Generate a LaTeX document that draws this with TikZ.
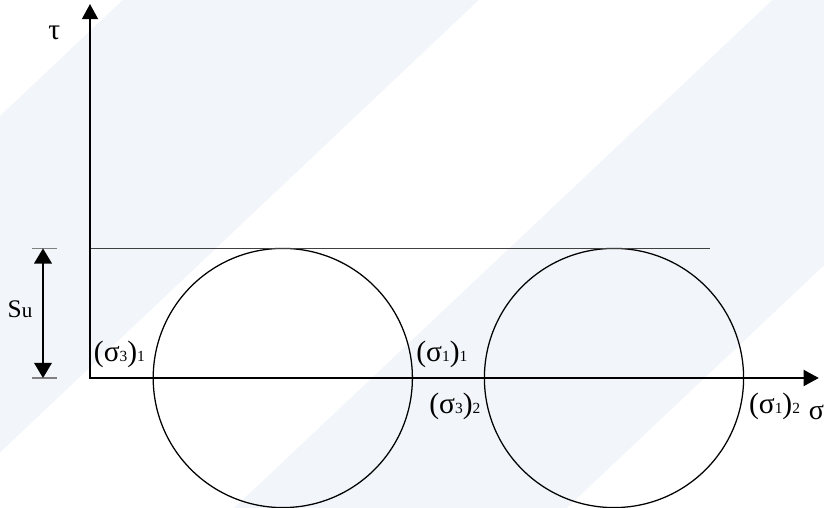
\documentclass[tikz,border=0pt]{standalone}
\usepackage{fontspec}
\setmainfont{Liberation Serif}
\usetikzlibrary{positioning,arrows.meta}
\definecolor{wmark}{RGB}{242,245,249}
\newcommand{\lo}[1]{{\fontsize{5.5}{6}\selectfont #1}}

\begin{document}
\begin{tikzpicture}[
  font=\fontsize{10.5}{12}\selectfont,
  axis/.style={{Triangle[length=1.9mm,width=2mm]}-{Triangle[length=1.9mm,width=2mm]}, line width=0.7pt},
  mohr/.style={draw, circle, minimum size=3.24cm, inner sep=0pt, line width=0.45pt},
  dim/.style={{Triangle[length=1.9mm,width=2.2mm]}-{Triangle[length=1.9mm,width=2.2mm]}, line width=0.7pt},
  tick/.style={draw=gray, line width=0.4pt},
  lbl/.style={inner sep=1pt}
]
\useasboundingbox (-1.125,-1.625) rectangle (9.175,4.725);
% background stripes
\begin{scope}
  \clip (-1.125,-1.625) rectangle (9.175,4.725);
  \fill[wmark] (0.41,4.725) -- (4.86,4.725) -- (-1.86,-1.625) -- (-6.31,-1.625) -- cycle;
  \fill[wmark] (8.53,4.725) -- (12.69,4.725) -- (5.96,-1.625) -- (1.8,-1.625) -- cycle;
\end{scope}

\coordinate (O) at (0,0);
\coordinate (tau) at (0,4.675);
\coordinate (sig) at (9.11,0);
\coordinate (ytop) at (0,1.62);
\coordinate (yend) at (7.75,1.62);
\coordinate (sutop) at (-0.5875,1.62);
\coordinate (subot) at (-0.5875,0);

\node[mohr] (c1) at (2.41,0) {};
\node[mohr] (c2) at (6.55,0) {};

\draw[line width=0.3pt, draw=gray!50!black] (ytop) -- (yend);
\draw[axis] (tau) -- (O) -- (sig);

% s_u dimension
\draw[tick] ([xshift=-1.4mm]sutop) -- ([xshift=1.7mm]sutop);
\draw[tick] ([xshift=-1.4mm]subot) -- ([xshift=1.7mm]subot);
\draw[dim] (sutop) -- (subot);
\node (sulbl) at (-0.875,0.86) {\fontsize{9}{10}\selectfont S{\fontsize{7.5}{8}\selectfont u}};

% labels
\node[lbl] (taulbl) [below left=2.3mm and 3.3mm of tau] {τ};
\node[lbl] (siglbl) [below=3mm of sig, xshift=-0.3mm] {\fontsize{10}{11}\selectfont σ};
\node[lbl] (s31) [above left=2.5pt and 1.5pt of c1.west] {(σ\lo{3})\lo{1}};
\node[lbl] (s11) [above right=2.5pt and 0pt of c1.east] {(σ\lo{1})\lo{1}};
\node[lbl] (s32) [below left=4.3pt and 0pt of c2.west] {(σ\lo{3})\lo{2}};
\node[lbl] (s12) [below right=4.3pt and 0.5pt of c2.east] {(σ\lo{1})\lo{2}};
\end{tikzpicture}
\end{document}
